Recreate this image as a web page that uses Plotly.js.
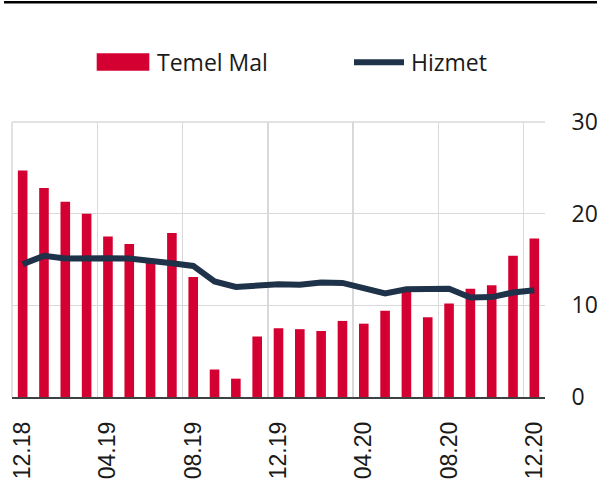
<!DOCTYPE html>
<html>
<head>
<meta charset="utf-8">
<script src="https://cdn.plot.ly/plotly-3.0.1.min.js"></script>
<style>
html,body{margin:0;padding:0;background:#fff;}
#chart{width:597px;height:483px;}
</style>
</head>
<body>
<div id="chart"></div>
<script>
var months = ["12.18","01.19","02.19","03.19","04.19","05.19","06.19","07.19","08.19","09.19","10.19","11.19","12.19",
              "01.20","02.20","03.20","04.20","05.20","06.20","07.20","08.20","09.20","10.20","11.20","12.20"];
var temelMal = [24.7,22.8,21.3,20.0,17.5,16.7,14.7,17.9,13.1,3.0,2.0,6.6,7.5,7.4,7.2,8.3,8.0,9.4,11.7,8.7,10.2,11.8,12.2,15.4,17.3];
var hizmet = [14.5,15.4,15.1,15.2,15.15,15.1,14.9,14.6,14.3,12.6,12.0,12.2,12.3,12.25,12.5,12.45,11.9,11.3,11.75,11.8,11.8,10.85,10.9,11.4,11.65];
var seriesNames = ["Temel Mal","Hizmet"];

var RED = "#d50032", NAVY = "#1e3249", GRID = "#d9d9d9";
var L = 12, R = 52, T = 122, B = 86, W = 597, H = 483;
var pw = W - L - R, ph = H - T - B;
function px(x){ return (x - L) / pw; }
function py(y){ return (H - B - y) / ph; }

var traces = [
  {type:"bar", x:months, y:temelMal, name:seriesNames[0], marker:{color:RED}, showlegend:false},
  {type:"scatter", mode:"lines", x:months, y:hizmet, name:seriesNames[1], line:{color:NAVY, width:6}, showlegend:false}
];

var layout = {
  width:W, height:H,
  margin:{l:L, r:R, t:T, b:B, pad:0},
  paper_bgcolor:"#fff", plot_bgcolor:"#fff",
  bargap:0.55,
  showlegend:false,
  xaxis:{
    type:"category", categoryorder:"array", categoryarray:months,
    range:[-0.5, 24.5], tickmode:"linear", tick0:0, dtick:4,
    tickson:"boundaries", showgrid:true, gridcolor:GRID, gridwidth:1.5,
    ticks:"", ticklabelstandoff:14,
    tickangle:-90,
    tickfont:{family:"Liberation Sans, Arial, sans-serif", size:23, color:"#1a1a1a"},
    showline:true, linecolor:"#404040", linewidth:1.5, zeroline:false, fixedrange:true
  },
  yaxis:{
    side:"right", range:[0,30], tickmode:"array", tickvals:[0,10,20,30],
    showgrid:true, gridcolor:GRID, gridwidth:1.5, zeroline:false,
    ticks:"outside", ticklen:21, tickcolor:"rgba(0,0,0,0)",
    tickfont:{family:"Open Sans, Noto Sans, sans-serif", size:23, color:"#1a1a1a"},
    showline:false, fixedrange:true
  },
  shapes:[
    {type:"line", xref:"paper", yref:"paper", x0:0, x1:1, y0:1, y1:1, layer:"below", line:{color:GRID, width:1.5}},
    {type:"line", xref:"paper", yref:"paper", x0:0, x1:0, y0:0, y1:1, layer:"below", line:{color:GRID, width:1.5}},
    {type:"line", xref:"paper", yref:"paper", x0:px(4), x1:px(597), y0:py(2.2), y1:py(2.2), line:{color:"#000", width:2.5}},
    {type:"rect", xref:"paper", yref:"paper", x0:px(96.7), x1:px(149.3), y0:py(70.7), y1:py(53.3), fillcolor:RED, line:{width:0}},
    {type:"line", xref:"paper", yref:"paper", x0:px(354), x1:px(404), y0:py(62.3), y1:py(62.3), line:{color:NAVY, width:6}}
  ],
  annotations:[
    {xref:"paper", yref:"paper", x:px(154.5), y:py(62), xanchor:"left", yanchor:"middle", showarrow:false,
     text:seriesNames[0], font:{family:"Open Sans, Noto Sans, sans-serif", size:23, color:"#1a1a1a"}},
    {xref:"paper", yref:"paper", x:px(408.5), y:py(62), xanchor:"left", yanchor:"middle", showarrow:false,
     text:seriesNames[1], font:{family:"Open Sans, Noto Sans, sans-serif", size:23, color:"#1a1a1a"}}
  ]
};

Plotly.newPlot("chart", traces, layout, {displayModeBar:false, staticPlot:true});
</script>
</body>
</html>
